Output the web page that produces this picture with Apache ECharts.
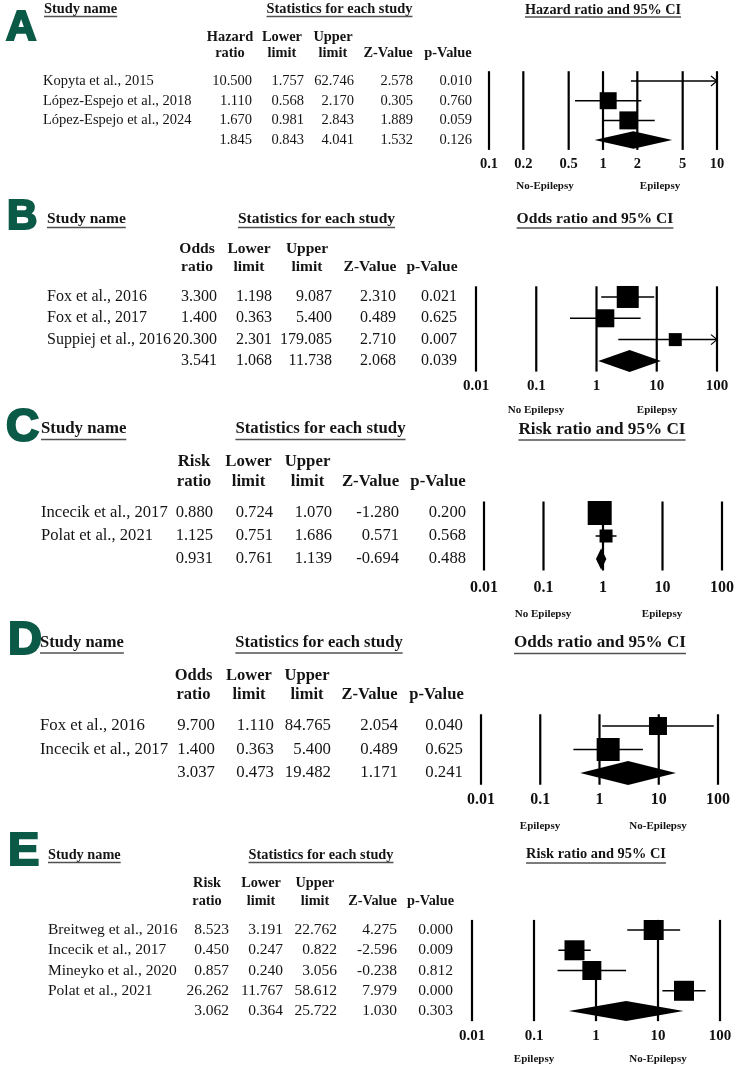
<!DOCTYPE html>
<html><head><meta charset="utf-8">
<script src="https://cdn.jsdelivr.net/npm/echarts@6/dist/echarts.min.js"></script>
<style>html,body{margin:0;padding:0;background:#fff}#c{width:738px;height:1068px}</style>
</head><body><div id="c"></div><script>
// ---------------- DATA ----------------
// Panel A
const namesA = ['Kopyta et al., 2015', 'López-Espejo et al., 2018', 'López-Espejo et al., 2024', ''];
const estA = [10.500, 1.110, 1.670, 1.845];
const lowA = [1.757, 0.568, 0.981, 0.843];
const upA  = [62.746, 2.170, 2.843, 4.041];
const zA   = [2.578, 0.305, 1.889, 1.532];
const pA   = [0.010, 0.760, 0.059, 0.126];
const weightA = [16, 17, 18];
const ticksA = [0.1, 0.2, 0.5, 1, 2, 5, 10];
const tickLabelsA = ['0.1', '0.2', '0.5', '1', '2', '5', '10'];
// Panel B
const namesB = ['Fox et al., 2016', 'Fox et al., 2017', 'Suppiej et al., 2016', ''];
const estB = [3.300, 1.400, 20.300, 3.541];
const lowB = [1.198, 0.363, 2.301, 1.068];
const upB  = [9.087, 5.400, 179.085, 11.738];
const zB   = [2.310, 0.489, 2.710, 2.068];
const pB   = [0.021, 0.625, 0.007, 0.039];
const weightB = [22, 18, 13];
// Panel C
const namesC = ['Incecik et al., 2017', 'Polat et al., 2021', ''];
const estC = [0.880, 1.125, 0.931];
const lowC = [0.724, 0.751, 0.761];
const upC  = [1.070, 1.686, 1.139];
const zC   = [-1.280, 0.571, -0.694];
const pC   = [0.200, 0.568, 0.488];
const weightC = [24, 13];
// Panel D
const namesD = ['Fox et al., 2016', 'Incecik et al., 2017', ''];
const estD = [9.700, 1.400, 3.037];
const lowD = [1.110, 0.363, 0.473];
const upD  = [84.765, 5.400, 19.482];
const zD   = [2.054, 0.489, 1.171];
const pD   = [0.040, 0.625, 0.241];
const weightD = [18, 23];
// Panel E
const namesE = ['Breitweg et al., 2016', 'Incecik et al., 2017', 'Mineyko et al., 2020', 'Polat et al., 2021', ''];
const estE = [8.523, 0.450, 0.857, 26.262, 3.062];
const lowE = [3.191, 0.247, 0.240, 11.767, 0.364];
const upE  = [22.762, 0.822, 3.056, 58.612, 25.722];
const zE   = [4.275, -2.596, -0.238, 7.979, 1.030];
const pE   = [0.000, 0.009, 0.812, 0.000, 0.303];
const weightE = [20, 20, 19, 20];
const tickFromRowE = [-0.5, -0.5, 2, -0.5, -0.5];
// shared decade ticks
const ticksDec = [0.01, 0.1, 1, 10, 100];
const tickLabelsDec = ['0.01', '0.1', '1', '10', '100'];
// headers
const headHR = ['Hazard', 'ratio'];
const headOR = ['Odds', 'ratio'];
const headRR = ['Risk', 'ratio'];
const titleA = 'Hazard ratio and 95% CI';
const titleB = 'Odds ratio and 95% CI';
const titleC = 'Risk ratio and 95% CI';
const footerA = ['No-Epilepsy', 'Epilepsy'];
const footerBC = ['No Epilepsy', 'Epilepsy'];
const footerDE = ['Epilepsy', 'No-Epilepsy'];

// ---------------- LAYOUT ----------------
const SERIF = '"Liberation Serif","Times New Roman",serif';
const SANS = '"Liberation Sans",Arial,sans-serif';
const GREEN = '#0b5a47';
const INK = '#141414';
const f = (s, b) => (b ? 'bold ' : '') + s + 'px ' + SERIF;

const panels = [
  {letter:'A', names:namesA, est:estA, low:lowA, up:upA, z:zA, p:pA, weight:weightA, ticks:ticksA, tickLabels:tickLabelsA,
   xMin:0.1, xMax:10, head:headHR, title:titleA, footer:footerA,
   L:{lx:6, ly:28.5, ls:42, fs:14.5, hfs:14.4, snX:44, snY:9, stC:339.5, ulY:16.5, h1:37, h2:53.5,
      hc:[230, 282, 333, 388, 448], vr:[252, 304, 354, 413, 472], nameX:43,
      gl:489, gw:228, gt:71.2, gh:78.7, tC:603, tY:10, tfs:14.2, tOff:14, tickFs:14.5,
      fY:186, fC:[545, 660], dh:8.8}},
  {letter:'B', names:namesB, est:estB, low:lowB, up:upB, z:zB, p:pB, weight:weightB, ticks:ticksDec, tickLabels:tickLabelsDec,
   xMin:0.01, xMax:100, head:headOR, title:titleB, footer:footerBC,
   L:{lx:7, ly:217.5, ls:42, fs:16, hfs:15.5, snX:47, snY:219, stC:316.5, ulY:227.5, h1:249, h2:267,
      hc:[197, 249, 307, 370, 432], vr:[217, 272, 332, 396, 457], nameX:47,
      gl:476, gw:241, gt:286.3, gh:85.3, tC:595, tY:219, tfs:15.6, tOff:15, tickFs:15,
      fY:410, fC:[536, 657], dh:11}},
  {letter:'C', names:namesC, est:estC, low:lowC, up:upC, z:zC, p:pC, weight:weightC, ticks:ticksDec, tickLabels:tickLabelsDec,
   xMin:0.01, xMax:100, head:headRR, title:titleC, footer:footerBC,
   L:{lx:6, ly:428.5, ls:46, fs:16.6, hfs:16.8, snX:41, snY:429, stC:320.5, ulY:439.5, h1:462, h2:481.5,
      hc:[194, 248.5, 307.5, 370.5, 438], vr:[213, 273, 332, 399, 466], nameX:41,
      gl:484, gw:238, gt:501.5, gh:69, tC:602, tY:430, tfs:17.2, tOff:17.5, tickFs:16,
      fY:614, fC:[543, 662], dh:10.8}},
  {letter:'D', names:namesD, est:estD, low:lowD, up:upD, z:zD, p:pD, weight:weightD, ticks:ticksDec, tickLabels:tickLabelsDec,
   xMin:0.01, xMax:100, head:headOR, title:titleB, footer:footerDE,
   L:{lx:8, ly:641, ls:47, fs:16.8, hfs:16.5, snX:40, snY:643, stC:319, ulY:653, h1:676, h2:695,
      hc:[193.5, 249, 307, 369.5, 436.5], vr:[215, 274, 331, 398, 463], nameX:40,
      gl:481, gw:237, gt:714.25, gh:70.5, tC:600, tY:643, tfs:17.1, tOff:15.5, tickFs:16,
      fY:826, fC:[540, 658], dh:12}},
  {letter:'E', names:namesE, est:estE, low:lowE, up:upE, z:zE, p:pE, weight:weightE, ticks:ticksDec, tickLabels:tickLabelsDec,
   tickFrom:tickFromRowE,
   xMin:0.01, xMax:100, head:headRR, title:titleC, footer:footerDE,
   L:{lx:8, ly:852, ls:47, fs:15.5, hfs:14.3, snX:48, snY:855, stC:321, ulY:862.5, h1:883, h2:901,
      hc:[207, 261, 315, 372.5, 430.5], vr:[229, 283, 337, 397, 453], nameX:48,
      gl:472, gw:248, gt:919.9, gh:101.25, tC:596, tY:854, tfs:14.4, tOff:15, tickFs:15,
      fY:1059, fC:[534, 658], dh:10}}
];

const mctx = document.createElement('canvas').getContext('2d');
function tw(text, font) { mctx.font = font; return mctx.measureText(text).width; }

function txt(text, x, y, align, font, fill) {
  return {type:'text', silent:true, style:{text:text, x:x, y:y, align:align, textAlign:align,
    verticalAlign:'middle', textVerticalAlign:'middle', font:font, fill:fill || INK}};
}
function uline(x1, x2, y) {
  return {type:'line', silent:true, shape:{x1:x1, y1:y, x2:x2, y2:y}, style:{stroke:'#505050', lineWidth:1.6}};
}

const graphic = [];
const grids = [], xAxes = [], yAxes = [], series = [];

panels.forEach((p, gi) => {
  const L = p.L, n = p.names.length;
  // letter (heavy sans, thickened with a stroke)
  const letterEl = txt(p.letter, L.lx, L.ly, 'left', 'bold ' + L.ls + 'px ' + SANS, GREEN);
  letterEl.style.stroke = GREEN; letterEl.style.lineWidth = 2.2;
  graphic.push(letterEl);
  // Study name
  const snF = f(L.hfs, true);
  graphic.push(txt('Study name', L.snX, L.snY, 'left', snF));
  graphic.push(uline(L.snX, L.snX + tw('Study name', snF), L.ulY));
  const st = 'Statistics for each study';
  graphic.push(txt(st, L.stC, L.snY, 'center', snF));
  const stw = tw(st, snF);
  graphic.push(uline(L.stC - stw / 2, L.stC + stw / 2, L.ulY));
  // column headers
  const hF = f(L.hfs, true);
  const h1 = [p.head[0], 'Lower', 'Upper', '', ''];
  const h2 = [p.head[1], 'limit', 'limit', 'Z-Value', 'p-Value'];
  h1.forEach((t, k) => { if (t) graphic.push(txt(t, L.hc[k], L.h1, 'center', hF)); });
  h2.forEach((t, k) => { graphic.push(txt(t, L.hc[k], L.h2, 'center', hF)); });
  // plot title
  const tF = f(L.tfs, true);
  graphic.push(txt(p.title, L.tC, L.tY, 'center', tF));
  const ttw = tw(p.title, tF);
  graphic.push(uline(L.tC - ttw / 2, L.tC + ttw / 2, L.ulY + 0.5));
  // footer
  p.footer.forEach((t, k) => graphic.push(txt(t, L.fC[k], L.fY, 'center', f(11, true))));

  grids.push({left:L.gl, top:L.gt, width:L.gw, height:L.gh, containLabel:false});
  xAxes.push({type:'log', logBase:10, min:p.xMin, max:p.xMax, gridIndex:gi, show:false});
  yAxes.push({type:'value', min:-0.5, max:n - 0.5, inverse:true, gridIndex:gi, show:false});

  // reference lines + tick labels
  series.push({
    type:'custom', xAxisIndex:gi, yAxisIndex:gi, silent:true, clip:false,
    data: p.ticks.map((t, k) => [t, p.tickFrom ? p.tickFrom[k] : -0.5]),
    renderItem: (params, api) => {
      const k = params.dataIndex;
      const t = api.value(0);
      const top = api.coord([t, api.value(1)]);
      const bot = api.coord([t, n - 0.5]);
      return {type:'group', children:[
        {type:'line', shape:{x1:top[0], y1:top[1], x2:bot[0], y2:bot[1]}, style:{stroke:'#000', lineWidth:2.2}},
        txt(p.tickLabels[k], bot[0], bot[1] + L.tOff, 'center', f(L.tickFs, true), '#111')
      ]};
    }
  });

  // forest marks
  series.push({
    type:'custom', xAxisIndex:gi, yAxisIndex:gi, silent:true, clip:false,
    data: p.est.map((e, i) => [e, i, p.low[i], p.up[i], i < n - 1 ? p.weight[i] : 0]),
    renderItem: (params, api) => {
      const i = params.dataIndex;
      const e = api.value(0), row = api.value(1), lo = api.value(2), hi = api.value(3), w = api.value(4);
      const cl = v => Math.min(Math.max(v, p.xMin), p.xMax);
      const X = v => api.coord([cl(v), row])[0];
      const cy = api.coord([p.xMin, row])[1];
      const kids = [];
      if (i === n - 1) {
        kids.push({type:'polygon', shape:{points:[[X(lo), cy], [X(e), cy - L.dh], [X(hi), cy], [X(e), cy + L.dh]]},
          style:{fill:'#000'}});
      } else {
        kids.push({type:'line', shape:{x1:X(lo), y1:cy, x2:X(hi), y2:cy}, style:{stroke:'#000', lineWidth:1.5}});
        if (hi > p.xMax) {
          const ax = X(hi);
          kids.push({type:'polyline', shape:{points:[[ax - 6, cy - 5], [ax, cy], [ax - 6, cy + 5]]},
            style:{stroke:'#000', lineWidth:1.2, fill:null}});
        }
        if (lo < p.xMin) {
          const ax = X(lo);
          kids.push({type:'polyline', shape:{points:[[ax + 6, cy - 5], [ax, cy], [ax + 6, cy + 5]]},
            style:{stroke:'#000', lineWidth:1.2, fill:null}});
        }
        if (e >= p.xMin && e <= p.xMax && w > 0) {
          const bx = X(e);
          kids.push({type:'rect', shape:{x:bx - w / 2, y:cy - w / 2, width:w, height:w}, style:{fill:'#000'}});
        }
      }
      return {type:'group', children:kids};
    }
  });

  // table rows
  const cols = [p.est, p.low, p.up, p.z, p.p];
  series.push({
    type:'custom', xAxisIndex:gi, yAxisIndex:gi, silent:true, clip:false,
    data: p.names.map((nm, i) => [p.xMin, i]),
    renderItem: (params, api) => {
      const i = params.dataIndex;
      const y = api.coord([p.xMin, i])[1];
      const kids = [];
      const vF = f(L.fs, false);
      if (p.names[i]) kids.push(txt(p.names[i], L.nameX, y, 'left', vF));
      cols.forEach((c, k) => kids.push(txt(c[i].toFixed(3), L.vr[k], y, 'right', vF)));
      return {type:'group', children:kids};
    }
  });
});

const chart = echarts.init(document.getElementById('c'), null, {renderer:'canvas', width:738, height:1068});
chart.setOption({
  animation:false,
  backgroundColor:'#ffffff',
  grid:grids, xAxis:xAxes, yAxis:yAxes, series:series, graphic:graphic
});
</script></body></html>
